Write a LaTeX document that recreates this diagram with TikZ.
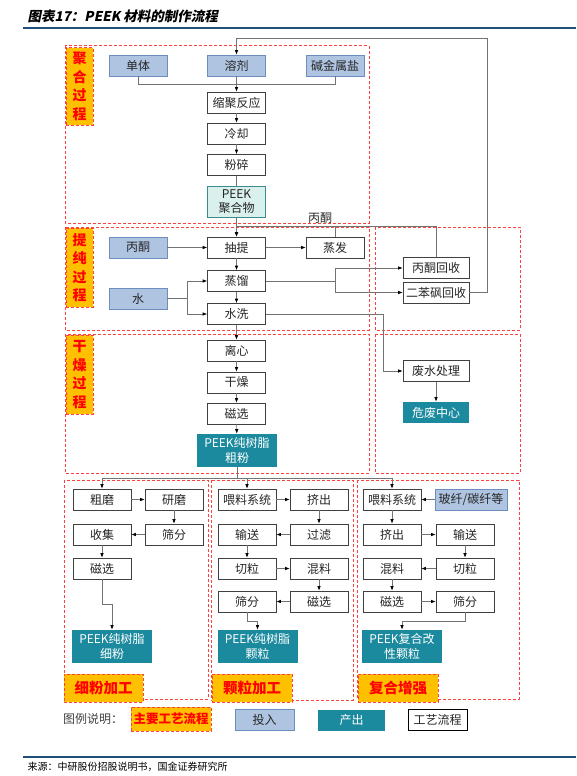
\documentclass[tikz,border=0pt]{standalone}
\usepackage{fontspec}
\setmainfont{Noto Sans CJK SC}
\newfontfamily\titlefont{Noto Sans CJK SC}[FakeSlant=0.2]
\usetikzlibrary{arrows.meta}
\definecolor{inblue}{HTML}{AEC4E1}
\definecolor{inedge}{HTML}{6C8EBF}
\definecolor{outteal}{HTML}{1B8A9E}
\definecolor{polyfill}{HTML}{D9F0EC}
\definecolor{polyedge}{HTML}{3A8C8C}
\definecolor{tagfill}{HTML}{FFC000}
\definecolor{stgred}{HTML}{FF4040}
\definecolor{rulecol}{HTML}{1F4E79}

\begin{document}
\begin{tikzpicture}[x=1pt,y=-1pt,
proc/.style={draw=black!75,fill=white,semithick,minimum width=58,minimum height=21,inner sep=0,text=black!85,font=\fontsize{12}{14}\selectfont},
inp/.style={proc,draw=inedge,fill=inblue},
outp/.style={proc,draw=none,fill=outteal,text=white,minimum width=80,minimum height=33,align=center,font=\fontsize{12}{15}\selectfont},
stg/.style={draw=stgred,line width=1pt,dash pattern=on 3pt off 2pt},
tag/.style={stg,fill=tagfill,text=red,inner sep=0,align=center,font=\bfseries\fontsize{14}{18.5}\selectfont},
ln/.style={draw=black!55,semithick},
arr/.style={ln,-{Latex[length=4.5pt,width=3.5pt,color=black]}}]
\useasboundingbox (0,0) rectangle (576,776);
\node[anchor=west,font=\titlefont\bfseries\fontsize{13.5}{15}\selectfont] (ttl) at (24,16) {图表17：PEEK 材料的制作流程};
\draw[rulecol,line width=1.2pt] (23,28) -- (576,28) (23,757) -- (576,757);
\node[anchor=west,font=\fontsize{10}{12}\selectfont] (src) at (24,767) {来源：中研股份招股说明书，国金证券研究所};
\draw[stg] (65,46) rectangle (369,223) (65,227) rectangle (369,330) (375,227) rectangle (520,330)
(65,334) rectangle (369,473) (375,334) rectangle (520,473)
(64,480) rectangle (208,699) (211,480) rectangle (353,700) (357,480) rectangle (519,699);
\node[tag,minimum width=27,minimum height=77] (t1) at (79.5,86.5) {聚\\合\\过\\程};
\node[tag,minimum width=27,minimum height=79] (t2) at (79.5,267.5) {提\\纯\\过\\程};
\node[tag,minimum width=27,minimum height=79] (t3) at (79.5,374.5) {干\\燥\\过\\程};
\node[tag,minimum width=79,minimum height=28,font=\bfseries\fontsize{14.5}{16}\selectfont] (t4) at (103.5,688) {细粉加工};
\node[tag,minimum width=80,minimum height=28,font=\bfseries\fontsize{14.5}{16}\selectfont] (t5) at (252,688) {颗粒加工};
\node[tag,minimum width=80,minimum height=28,font=\bfseries\fontsize{14.5}{16}\selectfont] (t6) at (398,688) {复合增强};
\node[inp] (mono) at (138,65.5) {单体};
\node[inp] (solv) at (236.5,65.5) {溶剂};
\node[inp] (salt) at (335,65.5) {碱金属盐};
\node[proc] (poly) at (236.5,102.5) {缩聚反应};
\node[proc] (cool) at (236.5,133.5) {冷却};
\node[proc] (mill) at (236.5,165) {粉碎};
\node[proc,draw=polyedge,fill=polyfill,minimum height=31,align=center,font=\fontsize{12}{14.5}\selectfont] (peek) at (236.5,201.5) {PEEK\\聚合物};
\node[inp] (ace) at (138,247.5) {丙酮};
\node[proc] (ext) at (236.5,247.5) {抽提};
\node[proc] (evap) at (335,247.5) {蒸发};
\node[proc] (dist) at (236.5,281) {蒸馏};
\node[inp] (water) at (138,298.5) {水};
\node[proc] (wash) at (236.5,314) {水洗};
\node[proc,minimum width=66] (acer) at (436,268) {丙酮回收};
\node[proc,minimum width=66] (dpsr) at (436,292.5) {二苯砜回收};
\node[text=black!85,font=\fontsize{12}{14}\selectfont] (lbl) at (320,218) {丙酮};
\node[proc] (cent) at (236.5,350.5) {离心};
\node[proc] (dry) at (236.5,382.5) {干燥};
\node[proc] (mag) at (236.5,413.5) {磁选};
\node[outp] (crude) at (237,450.5) {PEEK纯树脂\\粗粉};
\node[proc,minimum width=66] (waste) at (436,371) {废水处理};
\node[outp,minimum width=66,minimum height=21] (haz) at (436,412.5) {危废中心};
\node[proc] (cg) at (102,499.5) {粗磨};
\node[proc] (gr) at (174,499.5) {研磨};
\node[proc] (coll) at (102,534.5) {收集};
\node[proc] (sv) at (174,534.5) {筛分};
\node[proc] (mga) at (102,568.5) {磁选};
\node[outp] (fine) at (112,646.5) {PEEK纯树脂\\细粉};
\node[proc] (fdb) at (247,499.5) {喂料系统};
\node[proc] (exb) at (319,499.5) {挤出};
\node[proc] (cvb) at (247,534.5) {输送};
\node[proc] (flb) at (319,534.5) {过滤};
\node[proc] (ctb) at (247,568.5) {切粒};
\node[proc] (mxb) at (319,568.5) {混料};
\node[proc] (svb) at (247,601.5) {筛分};
\node[proc] (mgb) at (319,601.5) {磁选};
\node[outp] (pel) at (257.5,646.5) {PEEK纯树脂\\颗粒};
\node[proc] (fdc) at (392,499.5) {喂料系统};
\node[inp,minimum width=72] (gf) at (471,499.5) {玻纤/碳纤等};
\node[proc] (exc) at (392,534.5) {挤出};
\node[proc] (cvc) at (465,534.5) {输送};
\node[proc] (mxc) at (392,568.5) {混料};
\node[proc] (ctc) at (465,568.5) {切粒};
\node[proc] (mgc) at (392,601.5) {磁选};
\node[proc] (svc) at (465,601.5) {筛分};
\node[outp] (comp) at (402,646.5) {PEEK复合改\\性颗粒};
\node[text=black!75,font=\fontsize{12}{14}\selectfont] (leg) at (93,719) {图例说明：};
\node[tag,minimum width=80,minimum height=24,font=\bfseries\fontsize{12.5}{14}\selectfont] (k1) at (171,719) {主要工艺流程};
\node[inp,minimum width=59] (k2) at (264.5,720) {投入};
\node[outp,minimum width=67,minimum height=21] (k3) at (351.5,720) {产出};
\node[proc,draw=black,thick,minimum width=59] (k4) at (437.5,720) {工艺流程};
\coordinate (ret) at (487,38);
\draw[ln] (mono.south) -- ++(0,8) -| (salt.south);
\draw[arr] (solv) -- (poly);
\draw[arr] (poly) -- (cool);
\draw[arr] (cool) -- (mill);
\draw[ln] (mill) -- (peek);
\draw[arr] (peek) -- (ext);
\draw[arr] (dpsr.east) -| (ret) -| (solv.north);
\draw[arr] (ace) -- (ext);
\draw[arr] (ext) -- (evap);
\draw[arr] (ext) -- (dist);
\draw[arr] (dist) -- (wash);
\draw[ln] (water.east) -- ++(20,0) coordinate (wj);
\draw[arr] (wj) |- (dist.west);
\draw[arr] (wj) |- (wash.west);
\draw[ln] (dist.east) -- ++(69,0) coordinate (dj);
\draw[arr] (dj) |- (acer.west);
\draw[arr] (dj) |- (dpsr.west);
\draw[arr] (acer.north) |- ([yshift=10pt]ext.north) -- (ext.north);
\draw[ln] (evap.north) -- ++(0,-10);
\draw[arr] (wash.east) -- ++(117,0) |- (waste.west);
\draw[arr] (wash) -- (cent);
\draw[arr] (cent) -- (dry);
\draw[arr] (dry) -- (mag);
\draw[arr] (mag) -- (crude);
\draw[arr] (waste) -- (haz);
\draw[ln] (crude.south) -- ++(0,10.5) coordinate (cj);
\draw[arr] (cj) -| (cg.north);
\draw[arr] (cj) -| (fdb.north);
\draw[arr] (cj) -| (fdc.north);
\draw[arr] (cg) -- (gr);
\draw[arr] (gr) -- (sv);
\draw[arr] (sv) -- (coll);
\draw[arr] (coll) -- (mga);
\draw[arr] (mga.south) -- ++(0,25) -| (fine.north);
\draw[arr] (fdb) -- (exb);
\draw[arr] (exb) -- (flb);
\draw[arr] (flb) -- (cvb);
\draw[arr] (cvb) -- (ctb);
\draw[arr] (ctb) -- (mxb);
\draw[arr] (mxb) -- (mgb);
\draw[arr] (mgb) -- (svb);
\draw[arr] (svb.south) -- ++(0,9) -| (pel.north);
\draw[arr] (gf) -- (fdc);
\draw[arr] (fdc) -- (exc);
\draw[arr] (exc) -- (cvc);
\draw[arr] (cvc) -- (ctc);
\draw[arr] (ctc) -- (mxc);
\draw[arr] (mxc) -- (mgc);
\draw[arr] (mgc) -- (svc);
\draw[arr] (svc.south) -- ++(0,9) -| (comp.north);
\end{tikzpicture}
\end{document}
